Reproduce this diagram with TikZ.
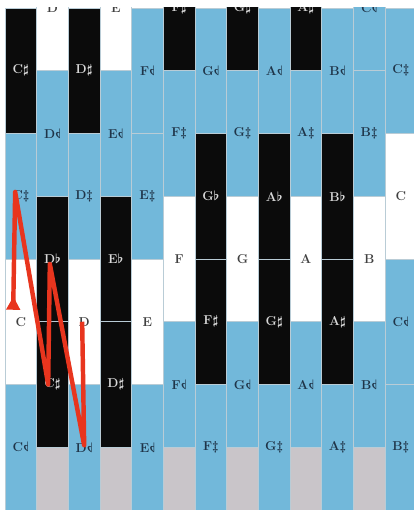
\documentclass[tikz,border=0pt]{standalone}
\usepackage{amsmath}
\usepackage{graphicx}
\usepackage{tikz}
\usetikzlibrary{arrows.meta}
\definecolor{keyblue}{HTML}{72B8DA}
\definecolor{keyblack}{HTML}{0B0B0B}
\definecolor{keygray}{HTML}{C9C5C9}
\definecolor{seamgray}{HTML}{B9CCD6}
\definecolor{inkblue}{HTML}{1F3448}
\definecolor{routered}{HTML}{E8351E}
\newcommand{\qsharp}{$\ddagger$}
\newcommand{\qflat}{\reflectbox{$\flat$}}

\begin{document}
\begin{tikzpicture}[
  x=0.95cm, y=-1.8825cm,
  every node/.style={font=\fontsize{11}{13}\selectfont\bfseries\boldmath},
  cell/.style={draw=seamgray, line width=0.5pt, minimum width=0.95cm,
               minimum height=3.765cm, inner sep=0pt},
  blackkey/.style={cell, fill=keyblack, text=white!85!black},
  bluekey/.style={cell, fill=keyblue, text=inkblue},
  whitekey/.style={cell, fill=white, text=black!75},
  graykey/.style={cell, fill=keygray},
  route/.style={draw=routered, line width=3.8pt, line join=round},
]
  \useasboundingbox (-0.158,-0.1275) rectangle (12.915,8);
  \clip (0,0) rectangle (12.915,8);

  % C
  \node[blackkey] (c0r1) at (0.5,1) {C$\sharp$};
  \node[bluekey]  (c0r3) at (0.5,3) {C\qsharp};
  \node[whitekey] (c0r5) at (0.5,5) {C};
  \node[bluekey]  (c0r7) at (0.5,7) {C\qflat};

  % between C and D
  \node[whitekey] (c1r0) at (1.5,0) {D};
  \node[bluekey]  (c1r2) at (1.5,2) {D\qflat};
  \node[blackkey] (c1r4) at (1.5,4) {D$\flat$};
  \node[blackkey] (c1r6) at (1.5,6) {C$\sharp$};
  \node[graykey]  (c1r8) at (1.5,8) {};

  % D
  \node[blackkey] (c2r1) at (2.5,1) {D$\sharp$};
  \node[bluekey]  (c2r3) at (2.5,3) {D\qsharp};
  \node[whitekey] (c2r5) at (2.5,5) {D};
  \node[bluekey]  (c2r7) at (2.5,7) {D\qflat};

  % between D and E
  \node[whitekey] (c3r0) at (3.5,0) {E};
  \node[bluekey]  (c3r2) at (3.5,2) {E\qflat};
  \node[blackkey] (c3r4) at (3.5,4) {E$\flat$};
  \node[blackkey] (c3r6) at (3.5,6) {D$\sharp$};
  \node[graykey]  (c3r8) at (3.5,8) {};

  % E
  \node[bluekey]  (c4r1) at (4.5,1) {F\qflat};
  \node[bluekey]  (c4r3) at (4.5,3) {E\qsharp};
  \node[whitekey] (c4r5) at (4.5,5) {E};
  \node[bluekey]  (c4r7) at (4.5,7) {E\qflat};

  % F
  \node[blackkey] (c5r0) at (5.5,0) {F$\sharp$};
  \node[bluekey]  (c5r2) at (5.5,2) {F\qsharp};
  \node[whitekey] (c5r4) at (5.5,4) {F};
  \node[bluekey]  (c5r6) at (5.5,6) {F\qflat};
  \node[graykey]  (c5r8) at (5.5,8) {};

  % between F and G
  \node[bluekey]  (c6r1) at (6.5,1) {G\qflat};
  \node[blackkey] (c6r3) at (6.5,3) {G$\flat$};
  \node[blackkey] (c6r5) at (6.5,5) {F$\sharp$};
  \node[bluekey]  (c6r7) at (6.5,7) {F\qsharp};

  % G
  \node[blackkey] (c7r0) at (7.5,0) {G$\sharp$};
  \node[bluekey]  (c7r2) at (7.5,2) {G\qsharp};
  \node[whitekey] (c7r4) at (7.5,4) {G};
  \node[bluekey]  (c7r6) at (7.5,6) {G\qflat};
  \node[graykey]  (c7r8) at (7.5,8) {};

  % between G and A
  \node[bluekey]  (c8r1) at (8.5,1) {A\qflat};
  \node[blackkey] (c8r3) at (8.5,3) {A$\flat$};
  \node[blackkey] (c8r5) at (8.5,5) {G$\sharp$};
  \node[bluekey]  (c8r7) at (8.5,7) {G\qsharp};

  % A
  \node[blackkey] (c9r0) at (9.5,0) {A$\sharp$};
  \node[bluekey]  (c9r2) at (9.5,2) {A\qsharp};
  \node[whitekey] (c9r4) at (9.5,4) {A};
  \node[bluekey]  (c9r6) at (9.5,6) {A\qflat};
  \node[graykey]  (c9r8) at (9.5,8) {};

  % between A and B
  \node[bluekey]  (c10r1) at (10.5,1) {B\qflat};
  \node[blackkey] (c10r3) at (10.5,3) {B$\flat$};
  \node[blackkey] (c10r5) at (10.5,5) {A$\sharp$};
  \node[bluekey]  (c10r7) at (10.5,7) {A\qsharp};

  % B
  \node[bluekey]  (c11r0) at (11.5,0) {C\qflat};
  \node[bluekey]  (c11r2) at (11.5,2) {B\qsharp};
  \node[whitekey] (c11r4) at (11.5,4) {B};
  \node[bluekey]  (c11r6) at (11.5,6) {B\qflat};
  \node[graykey]  (c11r8) at (11.5,8) {};

  % high C
  \node[bluekey]  (c12r1) at (12.5,1) {C\qsharp};
  \node[whitekey] (c12r3) at (12.5,3) {C};
  \node[bluekey]  (c12r5) at (12.5,5) {C\qflat};
  \node[bluekey]  (c12r7) at (12.5,7) {B\qsharp};

  % the route
  \draw[route, {Triangle[reversed, length=4mm, width=4mm]}-]
    ([xshift=-2.3mm, yshift=3.6mm]c0r5.center)
    -- ([xshift=-1.7mm, yshift=1.3mm]c0r3.center)
    -- ([xshift=-1.3mm]c1r6.center)
    -- ([xshift=-0.8mm, yshift=-1.5mm]c1r4.center)
    -- ([yshift=0.6mm]c2r7.center)
    -- ([xshift=-0.6mm]c2r5.center);
\end{tikzpicture}
\end{document}
